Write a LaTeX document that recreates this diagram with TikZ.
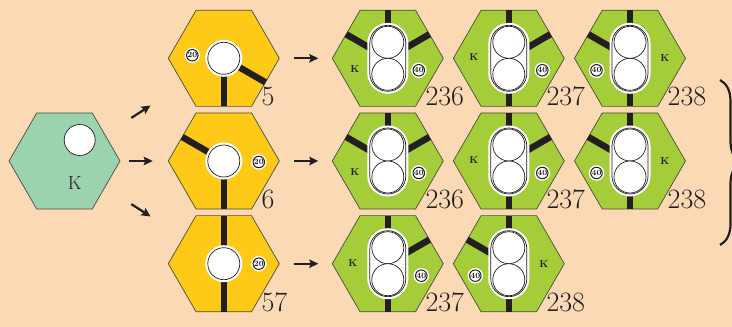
\documentclass[tikz,border=0pt]{standalone}
\usepackage{tikz}
\usetikzlibrary{arrows.meta,shapes.geometric,decorations.pathreplacing}
\definecolor{HexPeach}{HTML}{FCD9B5}
\definecolor{HexMint}{HTML}{9AD3AE}
\definecolor{HexGold}{HTML}{FFC917}
\definecolor{HexLeaf}{HTML}{A4CD39}
\definecolor{HexLine}{HTML}{4B4B3B}
\definecolor{HexInk}{HTML}{231F20}

\begin{document}
\begin{tikzpicture}[x=1pt,y=1pt]
    \tikzset{
      hexa/.style={regular polygon, regular polygon sides=6, minimum size=111pt,
        inner sep=0pt, outer sep=0pt, draw=HexLine, line width=.7pt},
      mint/.style={hexa,fill=HexMint},
      gold/.style={hexa,fill=HexGold},
      leaf/.style={hexa,fill=HexLeaf},
      road/.style={draw=HexInk,line width=6.5pt},
      ball/.style={circle, minimum size=32pt, inner sep=0pt, draw=HexInk,
        fill=white, line width=.7pt},
      slot/.style={ball,preaction={draw=white,line width=5pt}},
      pill/.style={rectangle, rounded corners=18pt, minimum width=36pt,
        minimum height=66pt, inner sep=0pt, draw=HexInk, fill=white,
        line width=.7pt, preaction={draw=white,line width=5pt}},
      chip/.style={circle, minimum size=11.5pt, inner sep=0pt, draw=HexInk,
        fill=white, line width=1pt, preaction={draw=white,line width=4pt},
        font=\fontsize{8}{8}\selectfont\bfseries, text=HexInk},
      kay/.style={font=\fontsize{10}{10}\selectfont\bfseries, text=HexInk},
      tilenum/.style={anchor=base west, inner sep=0pt,
        font=\fontsize{28}{28}\selectfont, text=HexInk},
      arr/.style={-{Stealth[length=9pt,width=8.5pt,inset=1.5pt]}, draw=HexInk,
        line width=2.2pt}
    }
    \path[use as bounding box,fill=HexPeach] (0,0) rectangle (732,327);
    % start tile
    \node[mint] (k0) at (64.5,166) {};
    \node[ball,minimum size=31pt] (k0-ball) at ([shift={(15.2,21)}]k0.center) {};
    \node[font=\fontsize{19}{19}\selectfont,text=HexInk] (k0-k)
      at ([shift={(10.2,-21.7)}]k0.center) {K};
    % yellow tiles
    \foreach \n/\y/\p/\q/\cx/\cy in {y1/268.7/270/330/-31.5/3,
        y2/166/150/270/35/-1, y3/63.3/90/270/35/0}{
      \node[gold] (\n) at (223.8,\y) {};
      \foreach \a in {\p,\q} \draw[road] (\n.center) -- ++(\a:48.1);
      \node[slot] (\n-slot) at (\n.center) {};
      \node[chip] (\n-chip) at ([shift={(\cx,\cy)}]\n.center) {20};
    }
    % green tiles
    \foreach \n/\x/\y/\p/\q/\kx/\ky/\cx/\cy in {
        g11/387.8/268.7/150/30/-33/-11/31/-12,
        g12/508.8/268.7/270/30/-35/1/33.5/-12,
        g13/630/268.7/270/150/35/0/-33.5/-12,
        g21/387.8/166/150/30/-33/-11/31/-12,
        g22/508.8/166/270/30/-35/1/33.5/-12,
        g23/630/166/270/150/35/0/-33.5/-12,
        g31/387.8/63.3/270/30/-35/1/33.5/-12,
        g32/508.8/63.3/270/150/35/0/-33.5/-12}{
      \node[leaf] (\n) at (\x,\y) {};
      \foreach \a in {90,\p,\q} \draw[road] (\n.center) -- ++(\a:48.1);
      \node[pill] (\n-pill) at (\n.center) {};
      \node[ball] (\n-top) at ([yshift=16pt]\n.center) {};
      \node[ball] (\n-bot) at ([yshift=-16pt]\n.center) {};
      \node[kay] (\n-k) at ([shift={(\kx,\ky)}]\n.center) {K};
      \node[chip] (\n-chip) at ([shift={(\cx,\cy)}]\n.center) {40};
    }
    % tile numbers
    \foreach \n/\lbl in {y1/5,y2/6,y3/57,g11/236,g12/237,g13/238,
        g21/236,g22/237,g23/238,g31/237,g32/238}
      \node[tilenum] (\n-num) at ([shift={(37.5,-47.5)}]\n.center) {\lbl};
    % arrows
    \foreach \t/\s/\e in {y1/31.4/39,y2/9.3/15.6,y3/31.4/39}
      \draw[arr,shorten <=\s pt,shorten >=\e pt] (k0) -- (\t);
    \foreach \r in {1,2,3}
      \draw[arr,shorten <=15pt,shorten >=14pt] (y\r) -- (g\r1);
    \draw[HexInk,line width=2.2pt,decorate,decoration={brace,amplitude=21pt}]
      (720,247) -- (720,82);
\end{tikzpicture}
\end{document}
